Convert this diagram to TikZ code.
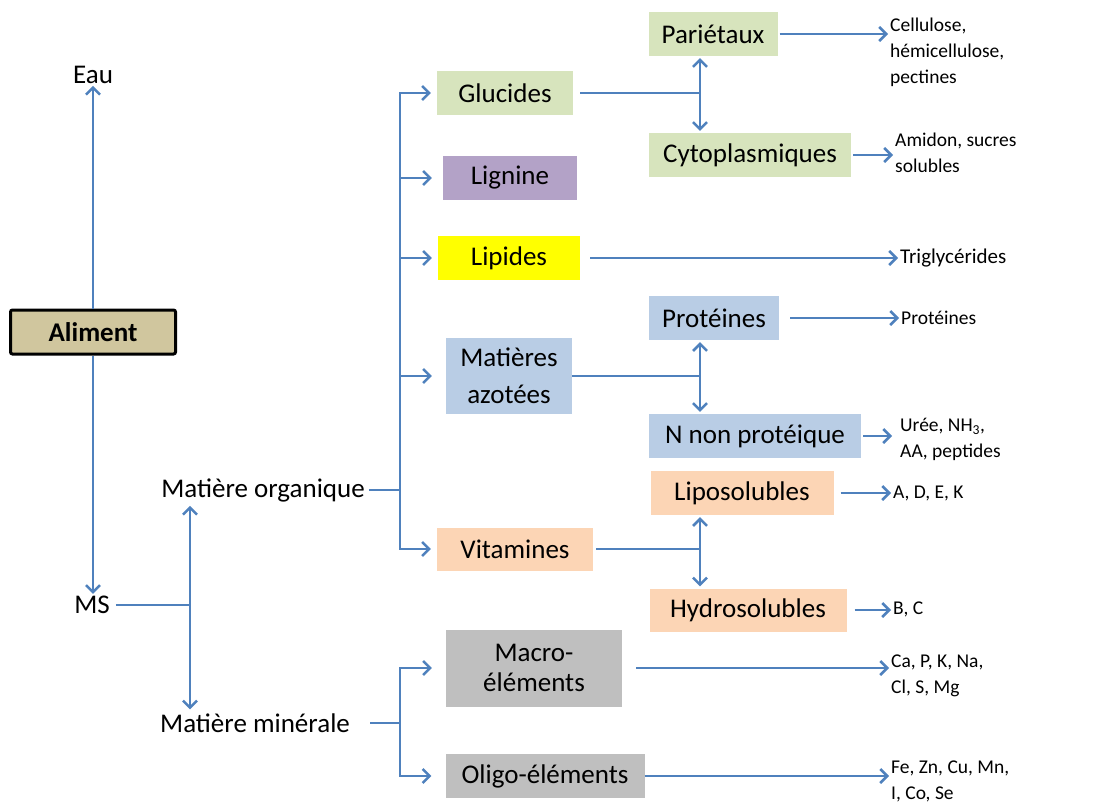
\documentclass[tikz,border=0pt]{standalone}
\usepackage{fontspec}
\setmainfont{Carlito}
\usetikzlibrary{positioning, arrows.meta}
\definecolor{lineBlue}{RGB}{79,129,189}
\definecolor{alimentTan}{RGB}{208,198,158}
\definecolor{glucGreen}{RGB}{215,228,189}
\definecolor{ligPurple}{RGB}{179,162,199}
\definecolor{lipYellow}{RGB}{255,255,0}
\definecolor{azoBlue}{RGB}{185,205,229}
\definecolor{vitPeach}{RGB}{252,213,181}
\definecolor{minGray}{RGB}{191,191,191}
\tikzset{
  % Boîtes de catégories
  catbox/.style={
    rectangle, align=center, inner sep=0pt,
    font=\fontsize{27}{32}\selectfont,
    minimum height=44pt
  },
  % Textes sans cadre
  freetext/.style={font=\fontsize{27}{32}\selectfont, inner sep=2pt},
  % Listes de composés
  leaf/.style={
    anchor=west, align=left, inner sep=2pt,
    font=\fontsize{19.5}{26}\selectfont
  },
  % Flèches et traits
  link/.style={
    ->, draw=lineBlue, line width=2.5pt,
    >={Straight Barb[length=7pt, width=14pt]}
  },
  biarrow/.style={link, <->, shorten >=2pt, shorten <=2pt},
  branch/.style={-, draw=lineBlue, line width=2.5pt},
}

\begin{document}
\begin{tikzpicture}[x=1pt, y=-1pt]
  \useasboundingbox (0,0) rectangle (1105,806);

  %% -- Aliment --
  \node[catbox, draw=black, line width=3pt, rounded corners=2pt, fill=alimentTan,
        minimum width=165pt, font=\fontsize{27}{32}\selectfont\bfseries] (aliment) at (93,332) {Aliment};
  \node[freetext] (eau) at (93,75) {Eau};
  \node[freetext] (ms) at (92,605) {MS};
  \node[freetext] (orgMat) at (263,490) {Matière organique};
  \node[freetext] (minMat) at (255,723) {Matière minérale};

  %% -- Matière organique --
  \node[catbox, fill=glucGreen, minimum width=136pt] (glucides) at (505,93) {Glucides};
  \node[catbox, fill=ligPurple, minimum width=134pt] (lignine) at (510,178) {Lignine};
  \node[catbox, fill=lipYellow, minimum width=142pt] (lipides) at (509,258) {Lipides};
  \node[catbox, fill=azoBlue, minimum width=126pt, minimum height=76pt,
        font=\fontsize{27}{37}\selectfont] (azotees) at (509,376) {Matières\\azotées};
  \node[catbox, fill=vitPeach, minimum width=156pt, minimum height=43pt] (vitamines) at (515,549) {Vitamines};

  %% -- Sous-catégories --
  \node[catbox, fill=glucGreen, minimum width=129pt] (parietaux) at (713,34) {Pariétaux};
  \node[catbox, fill=glucGreen, minimum width=202pt] (cyto) at (750,155) {Cytoplasmiques};
  \node[catbox, fill=azoBlue, minimum width=130pt] (proteines) at (714,318) {Protéines};
  \node[catbox, fill=azoBlue, minimum width=212pt] (nnp) at (755,436) {N non protéique};
  \node[catbox, fill=vitPeach, minimum width=183pt] (lipo) at (742,493) {Liposolubles};
  \node[catbox, fill=vitPeach, minimum width=197pt, minimum height=43pt] (hydro) at (748,610) {Hydrosolubles};

  %% -- Matière minérale --
  \node[catbox, fill=minGray, minimum width=176pt, minimum height=77pt,
        font=\fontsize{27}{30}\selectfont] (macro) at (534,668) {Macro-\\éléments};
  \node[catbox, fill=minGray, minimum width=199pt] (oligo) at (545,776) {Oligo-éléments};

  %% -- Composés --
  \node[leaf] (cellulose) at (888,52) {Cellulose,\\hémicellulose,\\pectines};
  \node[leaf] (amidon) at (893,153) {Amidon, sucres\\solubles};
  \node[leaf, font=\fontsize{21}{26}\selectfont] (triglyc) at (898,258) {Triglycérides};
  \node[leaf] (protList) at (899,318) {Protéines};
  \node[leaf] (uree) at (898,439) {Urée, NH\textsubscript{3},\\AA, peptides};
  \node[leaf] (adek) at (891,493) {A, D, E, K};
  \node[leaf] (bc) at (891,609) {B, C};
  \node[leaf] (caP) at (889,676) {Ca, P, K, Na,\\Cl, S, Mg};
  \node[leaf] (feZn) at (889,781) {Fe, Zn, Cu, Mn,\\I, Co, Se};

  %% -- Jonctions --
  \coordinate (msJ) at (190,605);
  \coordinate (orgJ) at (400,490);
  \coordinate (minJ) at (400,723);
  \coordinate (glJ) at (700,93);
  \coordinate (azJ) at (700,376);
  \coordinate (vitJ) at (700,549);

  %% -- Aliment -> Eau / MS --
  \draw[link] (aliment.north) -- (eau.south);
  \draw[link] (aliment.south) -- (aliment.south |- ms.north);
  \draw[branch, shorten <=4pt] (ms.east) -- (msJ);
  \draw[biarrow] (msJ |- orgMat.south) -- (msJ |- minMat.north);

  %% -- Matière organique --
  \draw[branch, shorten <=2pt] (orgMat.east) -- (orgJ);
  \draw[link, shorten >=6pt] (orgJ) |- (glucides.west);
  \draw[link, shorten >=6pt] (orgJ) |- (vitamines.west);
  \draw[link, shorten >=11pt] (orgJ |- lignine) -- (lignine.west);
  \draw[link, shorten >=6pt] (orgJ |- lipides) -- (lipides.west);
  \draw[link, shorten >=14pt] (orgJ |- azotees) -- (azotees.west);

  %% -- Matière minérale --
  \draw[branch, shorten <=18pt] (minMat.east) -- (minJ);
  \draw[link, shorten >=14pt] (minJ) |- (macro.west);
  \draw[link, shorten >=14pt] (minJ) |- (oligo.west);

  %% -- Subdivisions --
  \draw[branch, shorten <=7pt] (glucides.east) -- (glJ);
  \draw[biarrow] (glJ |- parietaux.south) -- (glJ |- cyto.north);
  \draw[branch] (azotees.east) -- (azJ);
  \draw[biarrow] (azJ |- proteines.south) -- (azJ |- nnp.north);
  \draw[branch, shorten <=3pt] (vitamines.east) -- (vitJ);
  \draw[biarrow] (vitJ |- lipo.south) -- (vitJ |- hydro.north);

  %% -- Vers les composés --
  \draw[link, shorten <=2pt] (parietaux.east) -- (parietaux.east -| cellulose.west);
  \draw[link, shorten <=2pt] (cyto.east) -- (cyto.east -| amidon.west);
  \draw[link, shorten <=10pt] (lipides.east) -- (triglyc.west);
  \draw[link, shorten <=11pt] (proteines.east) -- (protList.west);
  \draw[link, shorten <=2pt, shorten >=6pt] (nnp.east) -- (nnp.east -| uree.west);
  \draw[link, shorten <=7pt] (lipo.east) -- (adek.west);
  \draw[link, shorten <=8pt] (hydro.east) -- (hydro.east -| bc.west);
  \draw[link, shorten <=14pt] (macro.east) -- (macro.east -| caP.west);
  \draw[link] (oligo.east) -- (oligo.east -| feZn.west);

\end{tikzpicture}
\end{document}
